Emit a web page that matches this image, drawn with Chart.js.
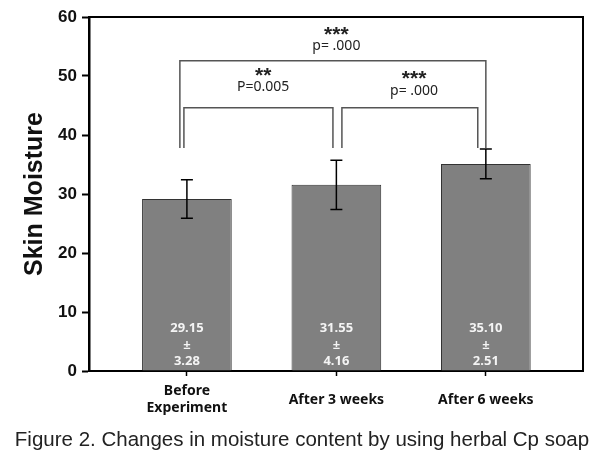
<!DOCTYPE html>
<html>
<head>
<meta charset="utf-8">
<script src="https://cdn.jsdelivr.net/npm/chart.js@4.4.1/dist/chart.umd.min.js"></script>
<style>
  html, body { margin: 0; padding: 0; background: #fff; }
  #wrap { position: relative; width: 604px; height: 459px; }
  #caption {
    position: absolute; left: 0; top: 427px; width: 604px;
    text-align: center; font-family: "Liberation Sans", Arial, sans-serif;
    font-size: 20.5px; color: #222; white-space: nowrap;
  }
</style>
</head>
<body>
<div id="wrap">
  <canvas id="chart" width="604" height="459"></canvas>
  <div id="caption">Figure 2. Changes in moisture content by using herbal Cp soap</div>
</div>
<script>
// datos del gráfico
const categorias = [['Before', 'Experiment'], 'After 3 weeks', 'After 6 weeks'];
const medias = [29.15, 31.55, 35.10];
const desviaciones = [3.28, 4.16, 2.51];
const ticksY = [0, 10, 20, 30, 40, 50, 60];

// corchetes de significancia (en unidades de datos)
const corchetes = [
    { desde: -0.02, hasta: 0.977, y: 44.6, base: 37.8, estrellas: '**', p: 'P=0.005', tx: 0.51 },
    { desde: 1.037, hasta: 1.946, y: 44.6, base: 37.8, estrellas: '***', p: 'p= .000', tx: 1.52 },
    { desde: -0.047, hasta: 2.0, y: 52.6, base: 37.8, estrellas: '***', p: 'p= .000', tx: 1.0 }
];
// separación vertical del texto sobre cada corchete (px)
const desfaseTexto = [[36, 21], [33, 17], [29, 15]];

const fuente = '"Liberation Sans", Arial, sans-serif';

const puntos = medias.map((m, i) => ({ x: i, y: m }));

// barras de error, marco, etiquetas y corchetes
const extras = {
    id: 'extras',
    afterDatasetsDraw(chart) {
        const ctx = chart.ctx;
        const xs = chart.scales.x;
        const ys = chart.scales.y;
        const area = chart.chartArea;
        ctx.save();

        // marco superior y derecho
        ctx.strokeStyle = '#000';
        ctx.lineWidth = 2;
        ctx.beginPath();
        ctx.moveTo(area.left, area.top);
        ctx.lineTo(area.right, area.top);
        ctx.lineTo(area.right, area.bottom);
        ctx.stroke();

        // barras de error
        ctx.lineWidth = 1.5;
        medias.forEach((m, i) => {
            const x = xs.getPixelForValue(i);
            const y1 = ys.getPixelForValue(m + desviaciones[i]);
            const y2 = ys.getPixelForValue(m - desviaciones[i]);
            ctx.beginPath();
            ctx.moveTo(x, y1); ctx.lineTo(x, y2);
            ctx.moveTo(x - 6, y1); ctx.lineTo(x + 6, y1);
            ctx.moveTo(x - 6, y2); ctx.lineTo(x + 6, y2);
            ctx.stroke();
        });

        // valores dentro de las barras
        ctx.fillStyle = '#f4f4f4';
        ctx.font = 'bold 13px "Noto Sans", ' + fuente;
        ctx.textAlign = 'center';
        ctx.textBaseline = 'middle';
        const base = ys.getPixelForValue(0);
        medias.forEach((m, i) => {
            const x = xs.getPixelForValue(i);
            ctx.fillText(m.toFixed(2), x, base - 43);
            ctx.fillText('±', x, base - 26);
            ctx.fillText(desviaciones[i].toFixed(2), x, base - 10);
        });

        // corchetes
        ctx.strokeStyle = '#555';
        ctx.lineWidth = 1.5;
        corchetes.forEach((c, i) => {
            const xa = xs.getPixelForValue(c.desde);
            const xb = xs.getPixelForValue(c.hasta);
            const yt = ys.getPixelForValue(c.y);
            const yb = ys.getPixelForValue(c.base);
            ctx.beginPath();
            ctx.moveTo(xa, yb); ctx.lineTo(xa, yt);
            ctx.lineTo(xb, yt); ctx.lineTo(xb, yb);
            ctx.stroke();
            const xt = xs.getPixelForValue(c.tx);
            ctx.fillStyle = '#222';
            ctx.font = 'bold 21px ' + fuente;
            ctx.fillText(c.estrellas, xt, yt - desfaseTexto[i][0] + 4);
            ctx.font = '14px "Noto Sans", ' + fuente;
            ctx.fillText(c.p, xt, yt - desfaseTexto[i][1]);
        });
        ctx.restore();
    }
};

new Chart(document.getElementById('chart'), {
    type: 'bar',
    data: {
        datasets: [{
            data: puntos,
            backgroundColor: '#808080',
            borderColor: '#333',
            borderWidth: 1,
            barPercentage: 0.6,
            categoryPercentage: 1
        }]
    },
    options: {
        responsive: false,
        animation: false,
        layout: { padding: { top: 17, right: 21, left: 20, bottom: 38 } },
        plugins: { legend: { display: false }, tooltip: { enabled: false } },
        scales: {
            x: {
                type: 'linear',
                offset: false,
                min: -0.655,
                max: 2.65,
                afterBuildTicks: s => { s.ticks = categorias.map((c, i) => ({ value: i })); },
                afterFit: s => { s.height = 50; },
                grid: { offset: false, drawOnChartArea: false, color: '#000', tickLength: 5, tickWidth: 1.5 },
                border: { color: '#000', width: 2 },
                ticks: {
                    color: '#111',
                    font: { family: '"Noto Sans", ' + fuente, size: 14, weight: 'bold', lineHeight: 1.25 },
                    padding: 15,
                    crossAlign: 'center',
                    callback: v => categorias[v]
                }
            },
            y: {
                min: 0,
                max: 60,
                afterBuildTicks: s => { s.ticks = ticksY.map(v => ({ value: v })); },
                afterFit: s => { s.width = 69; },
                grid: { drawOnChartArea: false, color: '#000', tickLength: 7, tickWidth: 2 },
                border: { color: '#000', width: 2.5 },
                ticks: {
                    color: '#111',
                    font: { family: fuente, size: 17, weight: 'bold' },
                    padding: 5
                },
                title: {
                    display: true,
                    text: 'Skin Moisture',
                    color: '#111',
                    font: { family: fuente, size: 25, weight: 'bold' },
                    padding: { top: 0, bottom: 4 }
                }
            }
        }
    },
    plugins: [extras]
});
</script>
</body>
</html>
